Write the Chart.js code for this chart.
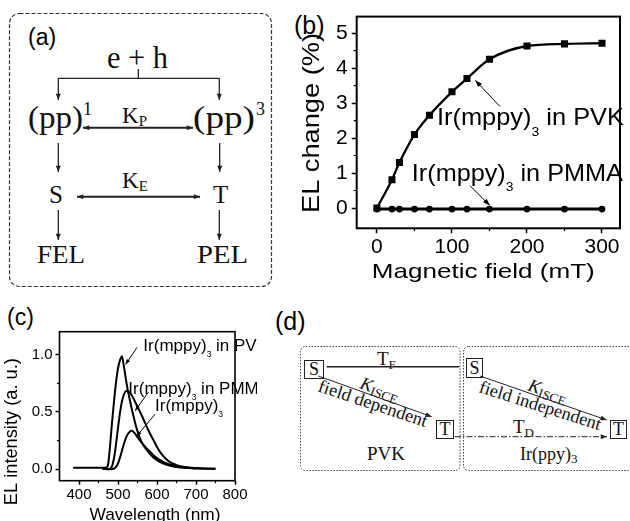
<!DOCTYPE html>
<html>
<head>
<meta charset="utf-8">
<script src="https://cdn.jsdelivr.net/npm/chart.js@4.4.1/dist/chart.umd.min.js"></script>
<style>
html,body{margin:0;padding:0;background:#fff;}
#wrap{position:relative;width:630px;height:521px;overflow:hidden;background:#fff;}
#svg{position:absolute;left:0;top:0;}
#cb{position:absolute;left:290px;top:0;}
#cc{position:absolute;left:0;top:300px;}
</style>
</head>
<body>
<div id="wrap">
<svg id="svg" width="630" height="521" viewBox="0 0 630 521" xmlns="http://www.w3.org/2000/svg">
<defs>
<marker id="ah" viewBox="0 0 10 8" refX="10" refY="4" markerWidth="8" markerHeight="5" markerUnits="userSpaceOnUse" orient="auto-start-reverse"><path d="M0,0 L10,4 L0,8 z" fill="#222"/></marker>
<marker id="ahs" viewBox="0 0 10 8" refX="10" refY="4" markerWidth="7" markerHeight="5" markerUnits="userSpaceOnUse" orient="auto"><path d="M0,0 L10,4 L0,8 z" fill="#222"/></marker>
</defs>
<!-- panel (a) -->
<rect x="9.5" y="13.5" width="262" height="273" rx="10" fill="none" stroke="#333" stroke-width="1.2" stroke-dasharray="4 2"/>
<text x="28" y="45" font-family="Liberation Sans, Arial, sans-serif" font-size="23">(a)</text>
<g font-family="Liberation Serif, Times New Roman, serif" fill="#111">
<text x="107" y="68" font-size="31" textLength="61" lengthAdjust="spacingAndGlyphs">e + h</text>
<text x="28" y="128" font-size="31" textLength="55" lengthAdjust="spacingAndGlyphs">(pp)</text>
<text x="83" y="115" font-size="18">1</text>
<text x="193" y="128" font-size="31" textLength="62" lengthAdjust="spacingAndGlyphs">(pp)</text>
<text x="256" y="115" font-size="18">3</text>
<text x="122" y="123" font-size="23">K<tspan font-size="15" dy="3">P</tspan></text>
<text x="122" y="188" font-size="23">K<tspan font-size="15" dy="3">E</tspan></text>
<text x="49" y="203" font-size="25">S</text>
<text x="213" y="203" font-size="25">T</text>
<text x="37" y="263" font-size="25" textLength="48" lengthAdjust="spacingAndGlyphs">FEL</text>
<text x="197" y="263" font-size="25" textLength="51" lengthAdjust="spacingAndGlyphs">PEL</text>
</g>
<g stroke="#222" stroke-width="1.3" fill="none">
<path d="M138.3,69 V78.3 M58.3,78.3 H219.3"/>
<line x1="58.3" y1="78.3" x2="58.3" y2="100" marker-end="url(#ahs)"/>
<line x1="219.3" y1="78.3" x2="219.3" y2="100" marker-end="url(#ahs)"/>
<line x1="83" y1="127.7" x2="193" y2="127.7" stroke-width="2" marker-start="url(#ah)" marker-end="url(#ah)"/>
<line x1="58.3" y1="143" x2="58.3" y2="172" marker-end="url(#ahs)"/>
<line x1="219.7" y1="143" x2="219.7" y2="172" marker-end="url(#ahs)"/>
<line x1="77" y1="196.7" x2="200" y2="196.7" stroke-width="2" marker-start="url(#ah)" marker-end="url(#ah)"/>
<line x1="58.3" y1="210" x2="58.3" y2="240" marker-end="url(#ahs)"/>
<line x1="219.3" y1="210" x2="219.3" y2="240" marker-end="url(#ahs)"/>
</g>
<!-- panel labels -->
<text x="294" y="34" font-family="Liberation Sans, Arial, sans-serif" font-size="25">(b)</text>
<text x="7" y="325" font-family="Liberation Sans, Arial, sans-serif" font-size="23">(c)</text>
<text x="275" y="330" font-family="Liberation Sans, Arial, sans-serif" font-size="25">(d)</text>
<!-- panel (d) -->
<g fill="none" stroke="#444" stroke-width="1" stroke-dasharray="1.5 1.5">
<rect x="300.5" y="346.5" width="159.5" height="124" rx="5"/>
<rect x="463.5" y="346.5" width="180" height="124" rx="5"/>
</g>
<g fill="none" stroke="#222" stroke-width="1">
<rect x="304.5" y="360.5" width="19" height="18"/>
<rect x="466.5" y="358.5" width="16" height="19"/>
<rect x="436.5" y="420.5" width="17" height="18"/>
<rect x="610.5" y="420.5" width="16" height="18"/>
<line x1="326.7" y1="366.7" x2="459.3" y2="366.7" stroke-width="1.6"/>
<line x1="318.3" y1="376" x2="431.7" y2="416.7" marker-end="url(#ahs)"/>
<line x1="480" y1="376" x2="606.7" y2="420" marker-end="url(#ahs)"/>
<line x1="455" y1="436.7" x2="607" y2="436.7" stroke-dasharray="6 2 1.5 2" marker-end="url(#ahs)"/>
</g>
<g font-family="Liberation Serif, Times New Roman, serif" fill="#111">
<text x="314" y="375" font-size="18" text-anchor="middle">S</text>
<text x="474.5" y="374" font-size="18" text-anchor="middle">S</text>
<text x="445" y="435" font-size="18" text-anchor="middle">T</text>
<text x="618.5" y="435" font-size="18" text-anchor="middle">T</text>
<text x="377" y="365" font-size="19">T<tspan font-size="13" dy="4">F</tspan></text>
<text x="513" y="433" font-size="19">T<tspan font-size="13" dy="4">D</tspan></text>
<text transform="translate(359,388) rotate(19.7)" font-size="18"><tspan font-style="italic">K</tspan><tspan font-size="13" dy="3">ISCE</tspan></text>
<text transform="translate(317,391) rotate(18.5)" font-size="18" textLength="114" lengthAdjust="spacingAndGlyphs">field dependent</text>
<text transform="translate(527,390) rotate(19.2)" font-size="18"><tspan font-style="italic">K</tspan><tspan font-size="13" dy="3">ISCE</tspan></text>
<text transform="translate(478,392) rotate(17.5)" font-size="18" textLength="127" lengthAdjust="spacingAndGlyphs">field independent</text>
<text x="386" y="460" font-size="19" text-anchor="middle">PVK</text>
<text x="520" y="460" font-size="18">Ir(ppy)<tspan font-size="13" dy="3">3</tspan></text>
</g>
</svg>
<canvas id="cb" width="340" height="290"></canvas>
<canvas id="cc" width="257" height="221"></canvas>
</div>
<script>
// ---------- data: panel (b) ----------
const fieldMT = [0, 20, 30, 50, 70, 100, 120, 150, 200, 250, 300];
const elChangePVK = [0, 0.81, 1.30, 2.10, 2.65, 3.32, 3.70, 4.25, 4.63, 4.69, 4.71];
const elChangePMMA = [-0.03, -0.03, -0.03, -0.03, -0.03, -0.03, -0.03, -0.03, -0.03, -0.03, -0.03];
const fieldTicks = [0, 100, 200, 300];
const fieldMinorTicks = [50, 150, 250];
const elChangeTicks = [0, 1, 2, 3, 4, 5];
const elChangeMinorTicks = [0.5, 1.5, 2.5, 3.5, 4.5];

// ---------- data: panel (c) ----------
const wavelengthNm = [385, 400, 420, 440, 460, 470, 475, 480, 485, 490, 495, 500, 505, 510, 515, 520, 525, 530, 535, 540, 545, 550, 560, 570, 580, 590, 600, 610, 620, 630, 640, 650, 670, 700, 725, 750];
const elIntensityPVK = [0.012, 0.013, 0.013, 0.013, 0.013, 0.015, 0.05, 0.22, 0.42, 0.60, 0.76, 0.88, 0.95, 0.985, 0.90, 0.79, 0.69, 0.61, 0.53, 0.46, 0.39, 0.33, 0.24, 0.185, 0.14, 0.105, 0.08, 0.06, 0.045, 0.034, 0.026, 0.02, 0.012, 0.007, 0.005, 0.004];
const elIntensityPMMA = [null, null, null, null, 0.003, 0.003, 0.003, 0.006, 0.03, 0.10, 0.22, 0.36, 0.49, 0.59, 0.65, 0.68, 0.685, 0.67, 0.645, 0.615, 0.58, 0.545, 0.475, 0.40, 0.325, 0.26, 0.195, 0.14, 0.10, 0.07, 0.05, 0.036, 0.02, 0.01, 0.006, 0.005];
const elIntensityNeat = [null, null, null, null, null, 0.0, 0.0, 0.0, 0.002, 0.006, 0.02, 0.05, 0.10, 0.16, 0.22, 0.27, 0.305, 0.328, 0.335, 0.325, 0.305, 0.28, 0.235, 0.195, 0.16, 0.125, 0.097, 0.075, 0.058, 0.045, 0.035, 0.027, 0.016, 0.008, null, null];
const wavelengthTicks = [400, 500, 600, 700, 800];
const wavelengthMinorTicks = [450, 550, 650, 750];
const intensityTicks = [0, 0.5, 1.0];
const intensityMinorTicks = [0.25, 0.75];

// ---------- drawing helpers ----------
const SANS = '"Liberation Sans", Arial, Helvetica, sans-serif';
Chart.defaults.font.family = SANS;
Chart.defaults.color = '#000';

function richWidth(ctx, parts, size, subScale) {
  let w = 0;
  for (const p of parts) {
    ctx.font = (p[1] ? size * subScale : size) + 'px ' + SANS;
    w += ctx.measureText(p[0]).width;
  }
  return w;
}
function drawRich(ctx, parts, x, y, size, targetW, subScale, subDrop) {
  const nat = richWidth(ctx, parts, size, subScale);
  const sx = targetW ? targetW / nat : 1;
  ctx.save();
  ctx.translate(x, y);
  ctx.scale(sx, 1);
  ctx.textAlign = 'left';
  ctx.textBaseline = 'alphabetic';
  let cx = 0;
  for (const p of parts) {
    ctx.font = (p[1] ? size * subScale : size) + 'px ' + SANS;
    ctx.fillText(p[0], cx, p[1] ? size * subDrop : 0);
    cx += ctx.measureText(p[0]).width;
  }
  ctx.restore();
}
function drawArrow(ctx, x1, y1, x2, y2, hl, hw) {
  ctx.beginPath();
  ctx.moveTo(x1, y1);
  ctx.lineTo(x2, y2);
  ctx.stroke();
  const ang = Math.atan2(y2 - y1, x2 - x1);
  ctx.beginPath();
  ctx.moveTo(x2, y2);
  ctx.lineTo(x2 - hl * Math.cos(ang) + hw * Math.sin(ang), y2 - hl * Math.sin(ang) - hw * Math.cos(ang));
  ctx.lineTo(x2 - hl * Math.cos(ang) - hw * Math.sin(ang), y2 - hl * Math.sin(ang) + hw * Math.cos(ang));
  ctx.closePath();
  ctx.fill();
}
function drawTitle(ctx, text, x, y, size, len, rotated) {
  ctx.save();
  ctx.translate(x, y);
  if (rotated) ctx.rotate(-Math.PI / 2);
  ctx.font = size + 'px ' + SANS;
  const w = ctx.measureText(text).width;
  ctx.scale(len / w, 1);
  ctx.textAlign = 'center';
  ctx.textBaseline = 'alphabetic';
  ctx.fillText(text, 0, 0);
  ctx.restore();
}
function figPlugin(cfg) {
  return {
    id: 'fig' + cfg.name,
    afterDatasetsDraw(chart) {
      const ctx = chart.ctx, a = chart.chartArea, xs = chart.scales.x, ys = chart.scales.y;
      ctx.save();
      ctx.strokeStyle = '#000';
      ctx.fillStyle = '#000';
      ctx.lineWidth = cfg.frameWidth;
      ctx.strokeRect(a.left, a.top, a.right - a.left, a.bottom - a.top);
      ctx.lineWidth = 1.2;
      ctx.beginPath();
      for (const v of cfg.xMinor) {
        const px = xs.getPixelForValue(v);
        ctx.moveTo(px, a.bottom); ctx.lineTo(px, a.bottom + cfg.minorLen);
      }
      for (const v of cfg.yMinor) {
        const py = ys.getPixelForValue(v);
        ctx.moveTo(a.left, py); ctx.lineTo(a.left - cfg.minorLen, py);
      }
      ctx.stroke();
      ctx.lineWidth = cfg.arrowWidth;
      for (const n of cfg.notes) {
        drawRich(ctx, n.parts, xs.getPixelForValue(n.at[0]), ys.getPixelForValue(n.at[1]), cfg.noteSize, n.width, cfg.subScale, cfg.subDrop);
        drawArrow(ctx, xs.getPixelForValue(n.from[0]), ys.getPixelForValue(n.from[1]),
                  xs.getPixelForValue(n.to[0]), ys.getPixelForValue(n.to[1]), cfg.headLen, cfg.headHalf);
      }
      const t = cfg.xTitle, u = cfg.yTitle;
      drawTitle(ctx, t.text, t.x, t.y, t.size, t.len, false);
      drawTitle(ctx, u.text, u.x, u.y, u.size, u.len, true);
      ctx.restore();
    }
  };
}
function axis(min, max, tickList, fitKey, fitVal, fontSize, pad, tickLen, cb) {
  return {
    type: 'linear', min: min, max: max,
    afterBuildTicks: s => { s.ticks = tickList.map(v => ({ value: v })); },
    afterFit: s => { s[fitKey] = fitVal; },
    grid: { display: true, drawOnChartArea: false, drawTicks: true, tickLength: tickLen, tickWidth: 1.5, tickColor: '#000' },
    border: { display: false },
    ticks: { font: { size: fontSize }, color: '#000', padding: pad, maxRotation: 0, minRotation: 0, autoSkip: false, callback: cb },
    title: { display: false }
  };
}

// ---------- panel (b) ----------
new Chart(document.getElementById('cb'), {
  type: 'line',
  data: {
    datasets: [
      { label: 'Ir(mppy)3 in PVK', data: fieldMT.map((x, i) => ({ x: x, y: elChangePVK[i] })),
        borderColor: '#000', backgroundColor: '#000', borderWidth: 2.3, pointStyle: 'rect', pointRadius: 5,
        pointBorderWidth: 0, pointBackgroundColor: '#000', cubicInterpolationMode: 'monotone', fill: false },
      { label: 'Ir(mppy)3 in PMMA', data: fieldMT.map((x, i) => ({ x: x, y: elChangePMMA[i] })),
        borderColor: '#000', backgroundColor: '#000', borderWidth: 3, pointStyle: 'circle', pointRadius: 3.4,
        pointBorderWidth: 0, pointBackgroundColor: '#000', tension: 0, fill: false }
    ]
  },
  options: {
    responsive: false, animation: false, events: [],
    layout: { padding: { left: 0, top: 14, right: 10, bottom: 0 } },
    plugins: { legend: { display: false }, tooltip: { enabled: false } },
    scales: {
      x: axis(-27, 324, fieldTicks, 'height', 61.7, 21, 1, 5, v => String(v)),
      y: axis(-0.58, 5.47, elChangeTicks, 'width', 66.7, 21, 4, 5, v => String(v))
    }
  },
  plugins: [figPlugin({
    name: 'B', frameWidth: 2, minorLen: 3, arrowWidth: 1, headLen: 7, headHalf: 2.5,
    xMinor: fieldMinorTicks, yMinor: elChangeMinorTicks,
    noteSize: 24, subScale: 0.55, subDrop: 0.42,
    notes: [
      { parts: [['Ir(mppy)', 0], ['3', 1], [' in PVK', 0]], at: [80, 2.36], width: 187, from: [164, 2.9], to: [131, 3.65] },
      { parts: [['Ir(mppy)', 0], ['3', 1], [' in PMMA', 0]], at: [46.5, 0.76], width: 211, from: [124, 0.64], to: [150.5, 0.07] }
    ],
    xTitle: { text: 'Magnetic field (mT)', x: 193.3, y: 278, size: 21, len: 223 },
    yTitle: { text: 'EL change (%)', x: 29.3, y: 123, size: 24, len: 180 }
  })]
});

// ---------- panel (c) ----------
function spectrum(vals) {
  return wavelengthNm.map((x, i) => ({ x: x, y: vals[i] }));
}
const specStyle = { borderColor: '#000', borderWidth: 2, pointRadius: 0, cubicInterpolationMode: 'monotone', fill: false, spanGaps: false };
new Chart(document.getElementById('cc'), {
  type: 'line',
  data: {
    datasets: [
      Object.assign({ label: 'Ir(mppy)3 in PVK', data: spectrum(elIntensityPVK) }, specStyle),
      Object.assign({ label: 'Ir(mppy)3 in PMMA', data: spectrum(elIntensityPMMA) }, specStyle),
      Object.assign({ label: 'Ir(mppy)3', data: spectrum(elIntensityNeat) }, specStyle)
    ]
  },
  options: {
    responsive: false, animation: false, events: [],
    layout: { padding: { left: 0, top: 31.7, right: 22, bottom: 0 } },
    plugins: { legend: { display: false }, tooltip: { enabled: false } },
    scales: {
      x: axis(350, 800, wavelengthTicks, 'height', 40.3, 15, 1, 4, v => String(v)),
      y: axis(-0.1, 1.2, intensityTicks, 'width', 59.5, 15, 3, 4, v => Number(v).toFixed(1))
    }
  },
  plugins: [figPlugin({
    name: 'C', frameWidth: 1.6, minorLen: 2.5, arrowWidth: 1, headLen: 5, headHalf: 2,
    xMinor: wavelengthMinorTicks, yMinor: intensityMinorTicks,
    noteSize: 17, subScale: 0.5, subDrop: 0.35,
    notes: [
      { parts: [['Ir(mppy)', 0], ['3', 1], [' in PVK', 0]], at: [565, 1.03], from: [549, 1.064], to: [519.5, 0.915] },
      { parts: [['Ir(mppy)', 0], ['3', 1], [' in PMMA', 0]], at: [526.6, 0.658], from: [578, 0.672], to: [544, 0.511] },
      { parts: [['Ir(mppy)', 0], ['3', 1]], at: [595, 0.511], from: [595, 0.48], to: [548, 0.29] }
    ],
    xTitle: { text: 'Wavelength (nm)', x: 155, y: 219.5, size: 17, len: 131 },
    yTitle: { text: 'EL intensity (a. u.)', x: 16.7, y: 131.7, size: 18, len: 147 }
  })]
});
</script>
</body>
</html>
